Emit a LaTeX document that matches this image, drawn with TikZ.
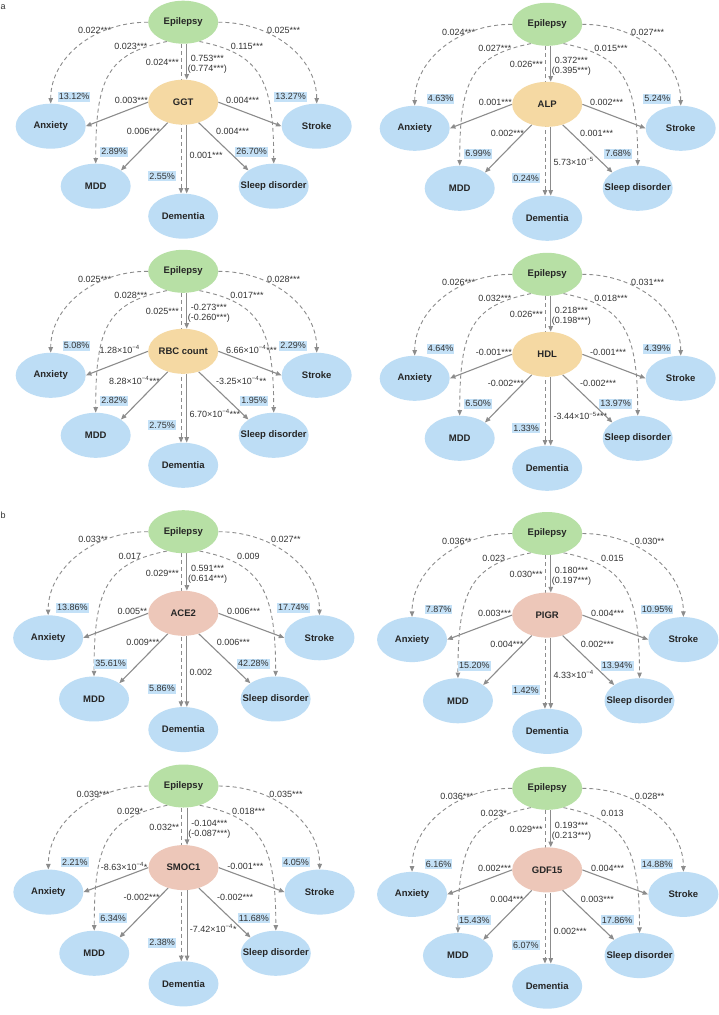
\documentclass[tikz,border=0pt]{standalone}
\usepackage{fontspec}
\setmainfont{Liberation Sans}
\usetikzlibrary{arrows.meta,shapes.geometric}
\pgfdeclarelayer{bgw}
\pgfdeclarelayer{lab}
\pgfdeclarelayer{edge}
\pgfsetlayers{bgw,lab,edge,main}
\definecolor{epi}{HTML}{B7E0A5}
\definecolor{medA}{HTML}{F5D9A3}
\definecolor{medB}{HTML}{EDC7B9}
\definecolor{outc}{HTML}{BDDDF5}
\definecolor{pbox}{HTML}{C4E1F7}
\definecolor{edgec}{HTML}{8C8C8C}
\definecolor{txt}{HTML}{333333}
\newcommand\sx[1]{\textsuperscript{#1}}
\newcommand\mk[1]{\makebox[0pt]{#1}}
\newcommand\setA[9]{\def\QdAnx{#1}\def\QdMDD{#2}\def\QdDem{#3}\def\QdSlp{#4}\def\QdStr{#5}\def\QaA{#6}\def\QaB{#7}\def\QmAnx{#8}\def\QmMDD{#9}}
\newcommand\setB[9]{\def\QmDem{#1}\def\QmSlp{#2}\def\QmStr{#3}\def\QmDemY{#4}\def\QpAnx{#5}\def\QpMDD{#6}\def\QpDem{#7}\def\QpSlp{#8}\def\QpStr{#9}}
\tikzset{
 ell/.style={ellipse, minimum width=70pt, minimum height=45pt, inner sep=0pt, font=\fontsize{9.5}{11}\selectfont\bfseries, text=black!85},
 epinode/.style={ell, fill=epi, minimum height=43pt},
 outnode/.style={ell, fill=outc},
 lab/.style={font=\fontsize{9}{10}\selectfont, text=txt, inner sep=0pt},
 pct/.style={lab, fill=pbox, inner xsep=1pt, inner ysep=1.4pt, text height=6.6pt, text depth=0.5pt, anchor=east},
 sol/.style={draw=edgec, line width=1.1pt, -{Triangle[length=5.5pt,width=4.5pt]}},
 dsh/.style={draw=edgec, line width=0.9pt, dash pattern=on 4pt off 3pt, -{Triangle[length=5.5pt,width=4.5pt]}},
}
\newcommand\drawpanel[5]{%
\begin{scope}[shift={(#1,#2)}, scale=#3]
 \node[epinode] (E) at (0,0) {\mk{Epilepsy}};
 \node[ell, fill=#5] (M) at (0,-80) {\mk{#4}};
 \node[outnode] (Ax) at (-132.5,-104) {\mk{Anxiety}};
 \node[outnode] (St) at (133.5,-104) {\mk{Stroke}};
 \node[outnode] (Md) at (-87.5,-164) {\mk{MDD}};
 \node[outnode] (Sl) at (90.5,-164) {\mk{Sleep disorder}};
 \node[outnode] (De) at (0,-194) {\mk{Dementia}};
 \begin{pgfonlayer}{edge}
  \draw[dsh] (E.west) .. controls +(-55,0) and +(0,45) .. (Ax.north);
  \draw[dsh] (E.east) .. controls +(55,0) and +(0,45) .. (St.north);
  \draw[dsh] (E.-130) .. controls +(-60,-12) and +(0,85) .. (Md.north);
  \draw[dsh] (E.-50) .. controls +(60,-12) and +(0,85) .. (Sl.north);
  \draw[dsh] ([xshift=-2.2pt]E.south) -- ([xshift=-2.2pt]De.north);
  \draw[sol] ([xshift=3.5pt]E.south) -- ([xshift=3.5pt]M.north);
  \draw[sol] ([xshift=3.5pt]M.south) -- ([xshift=3.5pt]De.north);
  \draw[sol] (M.west) -- (Ax.east);
  \draw[sol] (M.east) -- (St.west);
  \draw[sol] (M.-127) -- (Md.32);
  \draw[sol] (M.-53) -- (Sl.148);
 \end{pgfonlayer}
 \begin{pgfonlayer}{lab}
  \node[lab] (l1) at (-88.5,-8) {\QdAnx};
  \node[lab] (l2) at (100.5,-8) {\QdStr};
  \node[lab] (l3) at (-52.4,-24.5) {\QdMDD};
  \node[lab] (l4) at (63.8,-24.5) {\QdSlp};
  \node[lab,anchor=east] (l5) at (-4.2,-40.5) {\QdDem};
  \node[lab,anchor=west,align=center] (l6) at (4.5,-42) {\QaA\\\QaB};
  \node[lab,anchor=east] (l7) at (-35.2,-78.5) {\QmAnx};
  \node[lab,anchor=west] (l8) at (42.8,-78.5) {\QmStr};
  \node[lab,anchor=east] (l9) at (-23.2,-108.8) {\QmMDD};
  \node[lab,anchor=west] (l10) at (32.8,-108.8) {\QmSlp};
  \node[lab,anchor=west] (l11) at (6.1,\QmDemY) {\QmDem};
 \end{pgfonlayer}
 \node[pct] (p1) at (-92.7,-74.5) {\QpAnx};
 \node[pct] (p2) at (124,-74.5) {\QpStr};
 \node[pct] (p3) at (-55.2,-129.5) {\QpMDD};
 \node[pct] (p4) at (84.8,-129.5) {\QpSlp};
 \node[pct] (p5) at (-7.2,-153.8) {\QpDem};
\end{scope}}
\begin{document}
\begin{tikzpicture}[x=1pt,y=1pt]
\begin{pgfonlayer}{bgw}
\fill[white] (0,0) rectangle (719,-1015);
\end{pgfonlayer}
\useasboundingbox (0,0) rectangle (719,-1015);
\node[lab,anchor=west] (la) at (0.5,-7.5) {a};
\node[lab,anchor=west] (lb) at (0.5,-515) {b};
% P1 GGT
\setA{0.022***}{0.023***}{0.024***}{0.115***}{0.025***}{0.753***}{(0.774***)}{0.003***}{0.006***}
\setB{0.001***}{0.004***}{0.004***}{-133.5}{13.12\%}{2.89\%}{2.55\%}{26.70\%}{13.27\%}
\drawpanel{183.2}{-22.2}{1}{GGT}{medA}
% P2 ALP
\setA{0.024***}{0.027***}{0.026***}{0.015***}{0.027***}{0.372***}{(0.395***)}{0.001***}{0.002***}
\setB{5.73×10\sx{−5}}{0.001***}{0.002***}{-137.4}{4.63\%}{6.99\%}{0.24\%}{7.68\%}{5.24\%}
\drawpanel{547.2}{-24.3}{1}{ALP}{medA}
% P3 RBC
\setA{0.025***}{0.028***}{0.025***}{0.017***}{0.028***}{-0.273***}{(-0.260***)}{1.28×10\sx{−4}\hspace*{8pt}}{8.28×10\sx{−4}***}
\setB{6.70×10\sx{−4}***}{-3.25×10\sx{−4}**}{6.66×10\sx{−4}***}{-142}{5.08\%}{2.82\%}{2.75\%}{1.95\%}{2.29\%}
\drawpanel{183.2}{-271.3}{1}{RBC count}{medA}
% P4 HDL
\setA{0.026***}{0.032***}{0.026***}{0.018***}{0.031***}{0.218***}{(0.198***)}{-0.001***}{-0.002***}
\setB{-3.44×10\sx{−5}***}{-0.002***}{-0.001***}{-141.7}{4.64\%}{6.50\%}{1.33\%}{13.97\%}{4.39\%}
\drawpanel{547.2}{-274.3}{1}{HDL}{medA}
% P5 ACE2
\setA{0.033**}{0.017}{0.029***}{0.009}{0.027**}{0.591***}{(0.614***)}{0.005**}{0.009***}
\setB{0.002}{0.006***}{0.006***}{-138}{13.86\%}{35.61\%}{5.86\%}{42.28\%}{17.74\%}
\drawpanel{183.3}{-531.7}{1.02}{ACE2}{medB}
% P6 PIGR
\setA{0.036**}{0.023}{0.030***}{0.015}{0.030**}{0.180***}{(0.197***)}{0.003***}{0.004***}
\setB{4.33×10\sx{−4}}{0.002***}{0.004***}{-138}{7.87\%}{15.20\%}{1.42\%}{13.94\%}{10.95\%}
\drawpanel{547.2}{-533.5}{1.02}{PIGR}{medB}
% P7 SMOC1
\setA{0.039***}{0.029*}{0.032**}{0.018***}{0.035***}{-0.104***}{(-0.087***)}{-8.63×10\sx{−4}*}{-0.002***}
\setB{-7.42×10\sx{−4}*}{-0.002***}{-0.001***}{-140}{2.21\%}{6.34\%}{2.38\%}{11.68\%}{4.05\%}
\drawpanel{183.5}{-786}{1.02}{SMOC1}{medB}
% P8 GDF15
\setA{0.036***}{0.023*}{0.029***}{0.013}{0.028**}{0.193***}{(0.213***)}{0.002***}{0.004***}
\setB{0.002***}{0.003***}{0.004***}{-140}{6.16\%}{15.43\%}{6.07\%}{17.86\%}{14.88\%}
\drawpanel{547.2}{-788.3}{1.02}{GDF15}{medB}
\end{tikzpicture}
\end{document}
